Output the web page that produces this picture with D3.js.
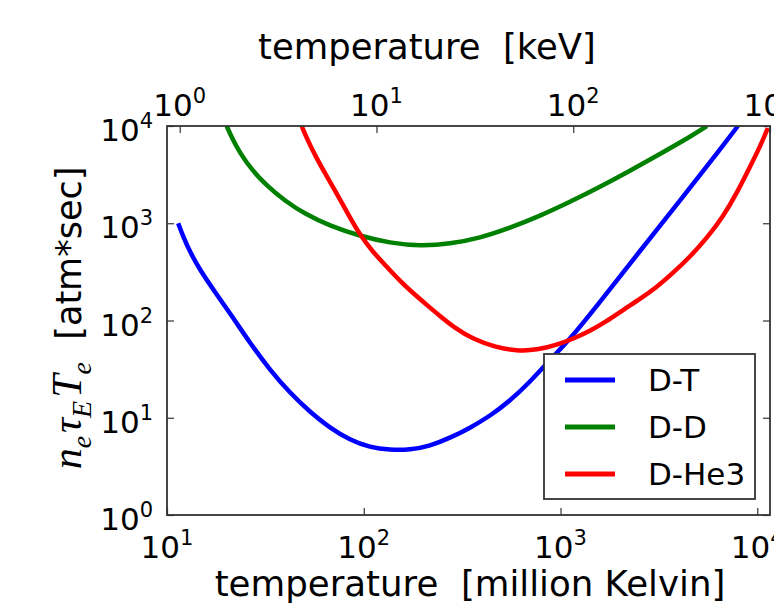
<!DOCTYPE html>
<html><head><meta charset="utf-8">
<script src="https://cdn.jsdelivr.net/npm/d3@7"></script>
<style>
html,body{margin:0;padding:0;background:#fff;}
svg{display:block;}
text{font-family:"DejaVu Sans",sans-serif;fill:#000;}
</style></head>
<body>
<svg id="chart" width="774" height="610"></svg>
<script>
// ---- data (temperature in million Kelvin, value in atm*sec) ----
const seriesNames = ["D-T", "D-D", "D-He3"];
const seriesColors = ["#0000ff", "#008000", "#ff0000"];

const tempDT = [11.4, 12.06, 13.09, 14.72, 17.54, 21.39, 26.41, 33.37, 42.17, 53.29, 67.34, 85.1, 107.5, 135.9, 171.7, 217, 274, 346.5, 437.8, 553, 699, 883, 1143, 1586, 2532, 4188, 6610, 7970];
const valDT  = [1000, 739, 506, 330, 196, 111, 58.7, 31.0, 17.97, 11.46, 7.85, 5.905, 4.945, 4.66, 4.66, 5.12, 6.19, 7.85, 10.42, 14.87, 23.3, 39.3, 67.7, 155, 518, 1862, 6083, 10000];

const tempDD = [20.11, 21.39, 23.49, 27.03, 31.85, 39.79, 50.26, 67.34, 95.6, 135.9, 193, 274, 389.3, 553, 786, 1116, 1586, 2252, 3200, 4545, 5545];
const valDD  = [10000, 7526, 5278, 3528, 2474, 1693, 1245, 937, 739, 626, 583, 612, 705, 894, 1187, 1654, 2359, 3446, 5153, 7707, 10000];

const tempDHe3 = [48.35, 52.06, 57.18, 64.27, 73.09, 83.12, 95.6, 111.4, 131.2, 152.7, 177.8, 209.5, 243.9, 290.6, 358.8, 464, 600, 759, 958, 1184, 1411, 1721, 2076, 2532, 3090, 3725, 4545, 5545, 6688, 7876, 9171, 10309, 11320];
const valDHe3  = [10000, 7012, 4800, 3134, 1999, 1245, 757, 506, 355, 255, 191.8, 144.3, 111.2, 83.7, 64.5, 53.4, 48.6, 49.7, 56.0, 66.1, 78.0, 98.8, 128.2, 166.4, 221, 307.8, 449.8, 705, 1159, 2046, 3788, 6083, 9537];

const xTicksMK  = [10, 100, 1000, 10000];
const xTicksKeV = [1, 10, 100, 1000];
const yTicks    = [1, 10, 100, 1000, 10000];
const keVperMK = 1 / 11.6045;

const xLabel = "temperature\u00a0\u00a0[million Kelvin]";
const topLabel = "temperature\u00a0\u00a0[keV]";

// ---- layout ----
const L = 167, R = 770, T = 126, B = 515;
const svg = d3.select("#chart");

const x = d3.scaleLog().domain([10, 11604.5]).range([L, R]);
const xTop = d3.scaleLog().domain([10 * keVperMK, 11604.5 * keVperMK]).range([L, R]);
const y = d3.scaleLog().domain([1, 10000]).range([B, T]);

const series = [
  {name: seriesNames[0], color: seriesColors[0], t: tempDT, v: valDT},
  {name: seriesNames[1], color: seriesColors[1], t: tempDD, v: valDD},
  {name: seriesNames[2], color: seriesColors[2], t: tempDHe3, v: valDHe3}
];

svg.append("clipPath").attr("id", "clip").append("rect")
  .attr("x", L).attr("y", T).attr("width", R - L).attr("height", B - T);

const line = d3.line()
  .x(d => x(d[0])).y(d => y(d[1]))
  .curve(d3.curveBasis);

const gLines = svg.append("g").attr("clip-path", "url(#clip)");
series.forEach(s => {
  gLines.append("path")
    .datum(s.t.map((t, i) => [t, s.v[i]]))
    .attr("d", line)
    .attr("fill", "none")
    .attr("stroke", s.color)
    .attr("stroke-width", 4.5)
    .attr("stroke-linejoin", "round");
});

// ---- axes ----
const fmt = () => "";
const tickLen = 7;
function styleAxis(g) {
  g.select(".domain").remove();
  g.selectAll(".tick line").attr("stroke", "#333").attr("stroke-width", 1.2);
}
const axB = svg.append("g").attr("transform", `translate(0,${B})`)
  .call(d3.axisBottom(x).tickValues(xTicksMK).tickSize(-tickLen).tickFormat(fmt));
const axT = svg.append("g").attr("transform", `translate(0,${T})`)
  .call(d3.axisTop(xTop).tickValues(xTicksKeV).tickSize(-tickLen).tickFormat(fmt));
const axL = svg.append("g").attr("transform", `translate(${L},0)`)
  .call(d3.axisLeft(y).tickValues(yTicks).tickSize(-tickLen).tickFormat(fmt));
const axR = svg.append("g").attr("transform", `translate(${R},0)`)
  .call(d3.axisRight(y).tickValues(yTicks).tickSize(-tickLen).tickFormat(fmt));
[axB, axT, axL, axR].forEach(styleAxis);

// frame
svg.append("rect").attr("x", L).attr("y", T).attr("width", R - L).attr("height", B - T)
  .attr("fill", "none").attr("stroke", "#333").attr("stroke-width", 1.8);

// tick labels with superscripts
const tickFont = 31, supFont = 21;
function powLabel(g, xPos, yPos, anchor, v) {
  const e = Math.round(Math.log10(v));
  const t = g.append("text").attr("x", xPos).attr("y", yPos)
    .attr("text-anchor", anchor).style("font-size", tickFont + "px");
  t.append("tspan").text("10");
  t.append("tspan").attr("dy", -13).style("font-size", supFont + "px").text(e);
}
const gl = svg.append("g");
xTicksMK.forEach(v => powLabel(gl, x(v), 558, "middle", v));
xTicksKeV.forEach(v => powLabel(gl, xTop(v), 116, "middle", v));
yTicks.forEach(v => powLabel(gl, 153, y(v) + 15, "end", v));

// axis labels
svg.append("text").attr("x", 470).attr("y", 596).attr("text-anchor", "middle")
  .style("font-size", "35.6px").text(xLabel);
svg.append("text").attr("x", 427).attr("y", 59).attr("text-anchor", "middle")
  .style("font-size", "35.4px").text(topLabel);

// y label (rotated)
const yl = svg.append("text").attr("transform", "translate(81,318) rotate(-90)")
  .attr("text-anchor", "middle");
const mathF = "'Liberation Serif','DejaVu Serif',serif";
function mt(txt, size, dy, italic, dx) {
  const s = yl.append("tspan").text(txt).style("font-size", size + "px")
    .style("font-family", mathF).style("font-style", italic ? "italic" : "normal")
    .style("font-weight", "300");
  if (dy) s.attr("dy", dy);
  if (dx) s.attr("dx", dx);
  return s;
}
mt("n", 42, 0, true);
mt("e", 28, 10, true);
mt("\u03c4", 42, -10, true, 3);
mt("E", 28, 10, true);
mt("T", 42, -10, true, 3);
mt("e", 28, 10, true);
yl.append("tspan").attr("dy", -10).style("font-size", "35px")
  .text("\u00a0\u00a0[atm*sec]");

// legend
const lg = svg.append("g");
lg.append("rect").attr("x", 544).attr("y", 354).attr("width", 211).attr("height", 145)
  .attr("fill", "#fff").attr("stroke", "#333").attr("stroke-width", 1.8);
series.forEach((s, i) => {
  const yy = 380 + i * 47;
  lg.append("line").attr("x1", 565).attr("x2", 615).attr("y1", yy).attr("y2", yy)
    .attr("stroke", s.color).attr("stroke-width", 5);
  lg.append("text").attr("x", 648).attr("y", yy + 11).style("font-size", "31px").text(s.name);
});
</script>
</body></html>
